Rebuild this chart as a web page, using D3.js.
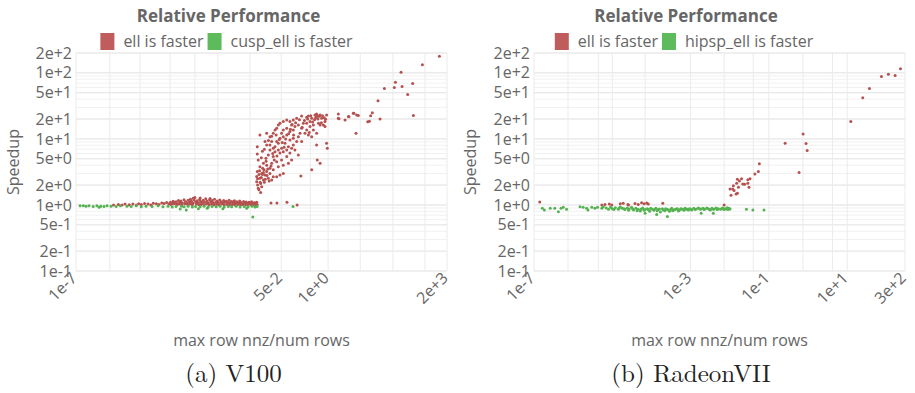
<!DOCTYPE html>
<html>
<head>
<meta charset="utf-8">
<script src="https://cdn.jsdelivr.net/npm/d3@7"></script>
<style>
  body { margin: 0; background: #fff; }
  text { font-family: "Open Sans", "Liberation Sans", Arial, sans-serif; }
</style>
</head>
<body>
<svg id="chart" width="915" height="393"></svg>
<script>
// speedup axis (shared)
const yTicks = [0.1, 0.2, 0.5, 1, 2, 5, 10, 20, 50, 100, 200];

// (a) V100
const xTicksA = [1e-7, 5e-2, 1, 2e3];
const gridXA = [1e-7, 8.7e-7, 6e-6, 4.1e-5, 2e-4, 8.7e-4, 6.8e-3, 5e-2, 0.32, 1, 7.8, 63, 490, 2e3];
const redA = [
  [1.1e-6,1.0],[1.5e-6,1.02],[1.9e-6,1.0],[2.3e-6,1.03],[3e-6,1.01],[3.8e-6,1.03],[4.7e-6,1.0],[5.5e-6,1.04],
  [6.5e-6,1.02],[8e-6,1.05],[1e-5,1.03],[1.2e-5,1.0],[1.4e-5,1.06],[1.7e-5,1.04],[2e-5,1.02],[2.4e-5,1.07],
  [2.8e-5,1.05],[3.3e-5,1.09],[3.8e-5,1.03],
  [4.2e-5,1.1],[4.6e-5,1.06],[5.0e-5,1.14],[5.5e-5,1.08],[6.0e-5,1.12],[6.5e-5,1.04],[7.0e-5,1.17],[7.6e-5,1.1],
  [8.2e-5,1.15],[9e-5,1.07],[1e-4,1.2],[1.1e-4,1.12],[1.2e-4,1.05],[1.3e-4,1.18],[1.4e-4,1.1],[1.5e-4,1.22],
  [1.6e-4,1.14],[1.75e-4,1.06],[1.9e-4,1.19],[2.0e-4,1.3],[2.1e-4,1.11],[2.3e-4,1.16],[2.5e-4,1.08],[2.7e-4,1.21],
  [2.9e-4,1.13],[3.1e-4,1.05],[3.4e-4,1.18],[3.7e-4,1.1],[4.0e-4,1.24],[4.3e-4,1.15],[4.7e-4,1.07],[5.1e-4,1.2],
  [5.5e-4,1.12],[6.0e-4,1.17],[6.5e-4,1.05],[7.0e-4,1.22],[7.6e-4,1.1],[8.3e-4,1.15],[9e-4,1.08],[9.8e-4,1.19],
  [1.07e-3,1.12],[1.16e-3,1.05],[1.26e-3,1.17],[1.37e-3,1.1],[1.5e-3,1.14],[1.63e-3,1.06],[1.78e-3,1.18],
  [1.93e-3,1.09],[2.1e-3,1.13],[2.3e-3,1.04],[2.5e-3,1.16],[2.7e-3,1.08],[2.95e-3,1.12],[3.2e-3,1.05],[3.5e-3,1.15],
  [3.8e-3,1.09],[4.1e-3,1.03],[4.5e-3,1.13],[4.9e-3,1.07],[5.3e-3,1.11],[5.8e-3,1.04],[6.3e-3,1.1],[6.9e-3,1.06],
  [7.5e-3,1.12],[8.2e-3,1.03],[8.9e-3,1.08],[9.6e-3,1.05],[1.04e-2,1.1],[1.07e-2,1.02],
  [4.4e-5,1.02],[5.2e-5,1.04],[6.2e-5,1.01],[7.3e-5,1.03],[8.6e-5,1.01],[1.05e-4,1.04],[1.25e-4,1.02],[1.45e-4,1.03],
  [1.7e-4,1.01],[2.2e-4,1.03],[2.6e-4,1.01],[3e-4,1.02],[3.6e-4,1.01],[4.2e-4,1.03],[5e-4,1.01],[5.8e-4,1.03],
  [6.8e-4,1.01],[8e-4,1.02],[9.4e-4,1.01],[1.1e-3,1.03],[1.3e-3,1.01],[1.55e-3,1.02],[1.85e-3,1.01],[2.2e-3,1.02],
  [2.6e-3,1.01],[3.1e-3,1.02],[3.7e-3,1.01],[4.3e-3,1.02],[5.1e-3,1.01],[6e-3,1.02],[7.2e-3,1.01],[8.6e-3,1.02],[1e-2,1.01],
  [8e-5,1.09],[1.15e-4,1.08],[1.65e-4,1.09],[2.4e-4,1.07],[3.2e-4,1.09],[4.5e-4,1.08],[6.3e-4,1.09],[8.8e-4,1.07],
  [1.2e-3,1.09],[1.7e-3,1.08],[2.4e-3,1.09],[3.3e-3,1.07],[4.7e-3,1.08],[6.6e-3,1.09],[9.2e-3,1.07],
  [1.8e-4,1.26],[5.3e-4,1.25],[2.8e-4,1.27],
  [2.6e-2,1.07],[3.8e-2,1.07],[7.2e-2,1.1],[0.138,1.0],
  // jump above 1e-2
  [1.08e-2,7.6],[1.08e-2,5.9],[1.15e-2,4.8],[1.08e-2,3.2],[1.04e-2,2.7],[1.04e-2,2.25],[1.15e-2,1.79],[1.34e-2,1.54],
  [1.28e-2,11.5],[1.97e-2,12.2],[1.43e-2,1.89],[1.6e-2,2.39],[1.28e-2,3.8],[1.52e-2,3.6],[1.66e-2,3.4],[1.97e-2,3.2],
  [1.77e-2,2.84],[2.19e-2,2.53],[2.71e-2,2.39],[3.0e-2,2.68],[2.43e-2,3.0],[1.6e-2,4.3],[1.88e-2,5.1],[2.19e-2,5.7],
  [2.43e-2,6.8],[1.97e-2,8.1],[1.77e-2,9.1],[2.43e-2,10.8],[3.0e-2,12.2],[3.35e-2,13.7],[3.73e-2,14.5],[4.15e-2,16.3],
  [4.6e-2,17.2],[5.7e-2,18.3],[7.1e-2,19.4],[8.7e-2,18.3],[0.108,19.4],[0.134,20.5],[0.184,22.3],[0.254,21.3],
  [0.283,22.3],[0.35,20.5],[0.43,23.1],[0.48,21.8],[0.6,23.1],[0.91,23.1],[1.92,23.9],[1.92,20.5],[2.95,19.4],
  [3.65,21.8],[5.0,24.4],[6.2,23.1],[5.96,12.2],[0.91,8.6],[0.95,7.2],[0.48,8.1],[0.5,4.8],[0.6,4.3],[0.35,3.4],
  [0.175,2.74],[0.149,5.7],[8.7e-2,6.1],[7.9e-2,7.6],[5.7e-2,4.0],[5.1e-2,4.8],[4.6e-2,6.1],[4.15e-2,8.6],
  [3.73e-2,9.1],[4.6e-2,10.2],[5.7e-2,10.8],[7.1e-2,11.5],[8.7e-2,12.9],[0.108,13.7],[0.12,15.4],[0.149,16.3],
  [0.205,17.2],[0.254,17.2],[0.314,15.4],[0.39,13.7],[0.48,12.2],[0.6,16.3],[0.74,16.3],[0.82,15.4],[0.54,17.2],
  [0.228,12.2],[0.283,11.5],[0.35,10.8],[0.184,9.1],[0.108,8.1],[8.7e-2,9.6],[6.35e-2,8.6],[5.1e-2,7.2],[3.35e-2,6.4],
  [3.0e-2,5.4],[2.71e-2,4.3],[3.73e-2,4.5],[4.15e-2,3.8],[3.0e-2,3.4],[2.43e-2,3.6],[1.97e-2,4.0],[1.43e-2,3.0],
  [1.28e-2,2.53],[1.34e-2,2.12],[3.35e-2,7.6],[7.1e-2,5.4],[7.9e-2,4.3],[9.7e-2,4.8],[5.7e-2,3.0],[4.6e-2,2.84],
  [3.73e-2,2.68],[0.12,6.8],[0.134,9.1],[0.166,12.2],[0.184,14.5],[9.7e-2,16.3],[7.1e-2,14.5],[5.7e-2,13.7],
  [5.1e-2,12.2],[3.6e-2,11.5],[2.71e-2,9.1],[2.43e-2,8.1],[3.0e-2,7.2],[4.15e-2,6.8],[5.7e-2,6.4],[7.1e-2,6.8],
  [9.7e-2,7.2],[0.108,10.2],[0.149,10.8],[0.254,13.7],[0.314,18.3],[0.39,16.3],[0.66,20.5],[0.82,18.3],
  [1.1e-2,2.5],[1.2e-2,2.9],[1.25e-2,3.3],[1.4e-2,2.6],[1.5e-2,2.9],[1.7e-2,2.2],[1.8e-2,2.45],[2.0e-2,2.8],
  [2.3e-2,2.3],[1.1e-2,2.0],[1.2e-2,1.7],[1.3e-2,2.2],[1.6e-2,3.1],[2.1e-2,3.5],[2.6e-2,3.9],[1.9e-2,4.6],
  [1.4e-2,5.2],[1.5e-2,6.5],[1.7e-2,7.0],[2.2e-2,9.5],[2.7e-2,11.0],[2.9e-2,6.0],[3.2e-2,4.8],[3.8e-2,5.5],
  [4.4e-2,9.8],[5.3e-2,8.8],[6.0e-2,7.5],[6.6e-2,10.0],[8.0e-2,12.0],[9.0e-2,14.0],[0.1,16.5],[0.11,11.5],
  [0.125,17.5],[0.16,19.5],[0.19,15.0],[0.22,19.0],[0.27,20.0],[0.3,12.5],[0.33,22.5],[0.37,18.0],[0.42,19.5],
  [0.45,21.0],[0.52,20.0],[0.57,22.0],[0.65,17.5],[0.7,22.5],[0.78,21.0],[0.85,19.8],
  // upper tail
  [1230,178],[415,133],[106,102],[74,72],[69,60],[113,62],[223,69],[162,47],[36.5,58],[24.3,38],[233,22.7],
  [27.7,20],[16.9,25],[15.2,22.5],[12.6,18.2],[14,18.5],[6.9,22.7],[5.2,24.4],[3.8,21.7],[2.0,20.2],[0.48,23.8],[0.54,22.3]
];
const greenA = [
  [1.3e-7,0.97],[1.6e-7,0.97],[1.9e-7,0.96],[2.3e-7,0.97],[3e-7,0.95],[3.8e-7,0.97],[4.4e-7,0.92],[4.9e-7,0.96],
  [6e-7,0.95],[7.3e-7,0.97],[9.4e-7,0.96],[1.3e-6,0.95],[1.7e-6,0.97],[2.6e-6,0.96],[3.4e-6,0.95],[4.7e-6,0.97],
  [6.5e-6,0.94],[8.8e-6,0.96],[1.3e-5,0.95],[1.9e-5,0.97],[2.6e-5,0.94],[3.6e-5,0.96],[4.7e-5,0.93],[6e-5,0.95],
  [7.8e-5,0.87],[8.5e-5,0.96],[1e-4,0.94],[1.15e-4,0.84],[1.3e-4,0.96],[1.7e-4,0.93],[2.1e-4,0.95],[2.5e-4,0.88],
  [2.8e-4,0.94],[3.6e-4,0.96],[4.4e-4,0.89],[4.7e-4,0.93],[6e-4,0.95],[7.8e-4,0.94],[1e-3,0.96],[1.2e-3,0.88],
  [1.3e-3,0.93],[1.7e-3,0.95],[2.1e-3,0.94],[2.8e-3,0.96],[3.6e-3,0.93],[4.7e-3,0.95],[5.5e-3,0.89],[6e-3,0.94],
  [7.8e-3,0.96],[9.4e-3,0.93],[1.07e-2,0.95],[8.1e-3,0.66],[0.106,0.95]
];

// (b) RadeonVII
const xTicksB = [1e-7, 1e-3, 1e-1, 1e1, 3e2];
const gridXB = [1e-7, 7.4e-7, 4.4e-6, 1e-5, 6.9e-5, 1e-3, 7.2e-3, 4e-2, 0.1, 0.74, 4.2, 10, 300];
const redB = [
  [1.4e-7,1.11],[5.4e-6,1.0],[6.5e-6,1.02],[8.4e-6,1.03],[9.7e-6,1.0],[1.6e-5,1.04],[1.9e-5,1.06],[2.5e-5,1.02],
  [2.6e-5,1.0],[3.8e-5,1.05],[4.6e-5,1.02],[5.6e-5,1.08],[6.5e-5,1.04],[7.6e-5,1.07],[8.3e-5,1.03],[1.95e-4,1.06],
  [7.2e-3,1.0],
  [5.7e-2,4.2],[5.4e-2,3.2],[4.4e-2,2.95],[3.3e-2,2.5],[2.9e-2,2.4],[3.1e-2,1.85],[2.9e-2,2.13],[2.4e-2,2.05],
  [2.0e-2,2.5],[1.77e-2,2.3],[1.57e-2,2.45],[2.15e-2,2.08],[1.5e-2,2.13],[1.67e-2,1.85],[1.24e-2,1.96],
  [1.19e-2,1.75],[1.02e-2,1.75],[1.29e-2,1.65],[1.45e-2,1.47],[1.57e-2,1.5],[1.08e-2,1.4],
  [0.59,3.1],[0.26,8.6],[0.75,11.9],[0.89,8.5],[0.95,6.7],
  [12.4,18.3],[25,42],[37,58],[75,88],[113,95],[168,91],[230,115]
];
const greenB = [
  [1.63e-7,0.89],[1.84e-7,0.84],[2.6e-7,0.89],[3.4e-7,0.89],[4.2e-7,0.79],[4.9e-7,0.89],[5.6e-7,0.92],[6.8e-7,0.86],
  [1.5e-6,0.94],[1.8e-6,0.92],[2.2e-6,0.89],[2.4e-6,0.84],[3.0e-6,0.92],[3.6e-6,0.89],[4.2e-6,0.92],[5.4e-6,0.89],[5.9e-6,0.94],
  [7e-6,0.9],[8e-6,0.86],[9e-6,0.92],[1e-5,0.88],[1.2e-5,0.91],[1.43e-5,0.86],[1.6e-5,0.93],[1.8e-5,0.89],
  [2.1e-5,0.85],[2.4e-5,0.9],[2.7e-5,0.87],[3.1e-5,0.92],[3.5e-5,0.84],[4e-5,0.89],[4.6e-5,0.86],[5.2e-5,0.81],
  [6e-5,0.9],[6.9e-5,0.85],[7.8e-5,0.88],[9e-5,0.8],[1.02e-4,0.87],[1.15e-4,0.83],[1.3e-4,0.89],[1.5e-4,0.85],
  [1.7e-4,0.78],[1.9e-4,0.88],[2.2e-4,0.82],[2.5e-4,0.86],[2.9e-4,0.8],[3.3e-4,0.89],[3.7e-4,0.84],[4.3e-4,0.87],
  [4.9e-4,0.81],[5.6e-4,0.88],[6.4e-4,0.85],[7.2e-4,0.89],[8.2e-4,0.86],[9.3e-4,0.88],[1.07e-3,0.84],[1.2e-3,0.89],
  [1.4e-3,0.87],[1.58e-3,0.9],[1.8e-3,0.86],[2.05e-3,0.89],[2.3e-3,0.87],[2.6e-3,0.9],[3e-3,0.86],[3.5e-3,0.89],
  [4e-3,0.87],[4.5e-3,0.9],[5.1e-3,0.88],[5.8e-3,0.86],[6.6e-3,0.9],[7.6e-3,0.88],[8.6e-3,0.91],[9.5e-3,0.89],[1.02e-2,0.87],
  [1.1e-5,0.85],[1.5e-5,0.9],[2e-5,0.88],[2.6e-5,0.83],[3.3e-5,0.88],[4.3e-5,0.82],[5.5e-5,0.87],[6.5e-5,0.83],
  [8.3e-5,0.85],[9.6e-5,0.89],[1.2e-4,0.86],[1.4e-4,0.82],[1.6e-4,0.87],[2e-4,0.84],[2.3e-4,0.88],[2.7e-4,0.84],
  [3.1e-4,0.86],[3.5e-4,0.82],[4e-4,0.85],[4.6e-4,0.88],[5.2e-4,0.84],[6e-4,0.87],[6.8e-4,0.83],[7.7e-4,0.87],
  [8.8e-4,0.84],[1e-3,0.87],[1.3e-3,0.85],[1.7e-3,0.88],[2.2e-3,0.85],[2.8e-3,0.88],[3.2e-3,0.84],[3.8e-3,0.86],
  [4.8e-3,0.85],[6.2e-3,0.88],[7.1e-3,0.85],[8.1e-3,0.87],[9.1e-3,0.85],
  [6.9e-5,0.75],[1.36e-4,0.72],[2.55e-4,0.67],[1.86e-3,0.75],[3.8e-3,0.75],
  [2.67e-2,0.86],[3.9e-2,0.84],[7.5e-2,0.84]
];

const panels = [
  {fig: [0, 457], plot: [76, 447], xDomain: [1e-7, 2e3], xTicks: xTicksA, gridX: gridXA,
   red: redA, green: greenA, altName: 'cusp_ell is faster', caption: '(a) V100'},
  {fig: [457, 915], plot: [534, 905], xDomain: [1e-7, 3e2], xTicks: xTicksB, gridX: gridXB,
   red: redB, green: greenB, altName: 'hipsp_ell is faster', caption: '(b) RadeonVII'}
];

const TEXT = '#666';
const RED = '#b5514f', GREEN = '#55b250';
const RED_KEY = '#bf5d5c', GREEN_KEY = '#5dbb5c';
const plotTop = 53, plotBottom = 271;
const fmt = d3.format('.0e');

const svg = d3.select('#chart');

// minor log grid 1..9 x 10^k
const yMinor = [];
for (let k = -1; k <= 2; k++) for (let m = 1; m <= 9; m++) {
  const v = m * Math.pow(10, k);
  if (v <= 200) yMinor.push(v);
}

function renderPanel(p) {
  const x = d3.scaleLog().domain(p.xDomain).range(p.plot);
  const y = d3.scaleLog().domain([0.1, 200]).range([plotBottom, plotTop]);
  const g = svg.append('g');

  g.selectAll('.ymin').data(yMinor).enter().append('line')
    .attr('x1', p.plot[0]).attr('x2', p.plot[1])
    .attr('y1', d => y(d)).attr('y2', d => y(d))
    .attr('stroke', '#f1f1f1').attr('stroke-width', 1);
  g.selectAll('.ymaj').data(yTicks).enter().append('line')
    .attr('x1', p.plot[0]).attr('x2', p.plot[1])
    .attr('y1', d => y(d)).attr('y2', d => y(d))
    .attr('stroke', '#e6e6e6').attr('stroke-width', 1);
  g.selectAll('.xg').data(p.gridX).enter().append('line')
    .attr('x1', d => x(d)).attr('x2', d => x(d))
    .attr('y1', plotTop).attr('y2', plotBottom)
    .attr('stroke', '#ebebeb').attr('stroke-width', 1);

  // points
  g.selectAll('.r').data(p.red).enter().append('circle')
    .attr('cx', d => x(d[0])).attr('cy', d => y(d[1])).attr('r', 1.5)
    .attr('fill', RED);
  g.selectAll('.gr').data(p.green).enter().append('circle')
    .attr('cx', d => x(d[0])).attr('cy', d => y(d[1])).attr('r', 1.5)
    .attr('fill', GREEN);

  // y tick labels
  g.selectAll('.yt').data(yTicks).enter().append('text')
    .attr('x', p.plot[0] - 4).attr('y', d => y(d)).attr('dy', '0.35em')
    .attr('text-anchor', 'end').attr('font-size', 16).attr('fill', TEXT)
    .text(d => fmt(d));

  // x tick labels, rotated
  g.selectAll('.xt').data(p.xTicks).enter().append('text')
    .attr('transform', d => 'translate(' + (x(d) - 2) + ',' + (plotBottom + 4) + ') rotate(-45)')
    .attr('dy', '0.35em')
    .attr('text-anchor', 'end').attr('font-size', 16).attr('fill', TEXT)
    .text(d => fmt(d));

  g.append('text')
    .attr('transform', 'translate(' + (p.fig[0] + 19) + ',162) rotate(-90)')
    .attr('text-anchor', 'middle').attr('font-size', 16).attr('fill', TEXT)
    .text('Speedup');

  g.append('text')
    .attr('x', (p.plot[0] + p.plot[1]) / 2).attr('y', 346)
    .attr('text-anchor', 'middle').attr('font-size', 16).attr('fill', TEXT)
    .text('max row nnz/num rows');

  const cx = (p.fig[0] + p.fig[1]) / 2;
  g.append('text')
    .attr('x', cx).attr('y', 21.5)
    .attr('text-anchor', 'middle').attr('font-size', 17).attr('font-weight', 'bold').attr('fill', TEXT)
    .text('Relative Performance');

  // legend
  const leg = g.append('g');
  const items = [{name: 'ell is faster', color: RED_KEY}, {name: p.altName, color: GREEN_KEY}];
  let pos = 0;
  items.forEach(it => {
    leg.append('rect').attr('x', pos).attr('y', 33).attr('width', 14).attr('height', 17)
      .attr('fill', it.color);
    const t = leg.append('text').attr('x', pos + 23).attr('y', 46.5)
      .attr('font-size', 16).attr('fill', TEXT).text(it.name);
    pos += 23 + t.node().getComputedTextLength() + 4;
  });
  pos -= 4;
  leg.attr('transform', 'translate(' + (cx - 2 - pos / 2) + ',0)');

  g.append('text')
    .attr('x', cx + 5).attr('y', 382)
    .attr('text-anchor', 'middle').attr('font-size', 25)
    .style('font-family', '"Latin Modern Roman", "CMU Serif", "Liberation Serif", serif')
    .attr('fill', '#222')
    .text(p.caption);
}

panels.forEach(renderPanel);
</script>
</body>
</html>
